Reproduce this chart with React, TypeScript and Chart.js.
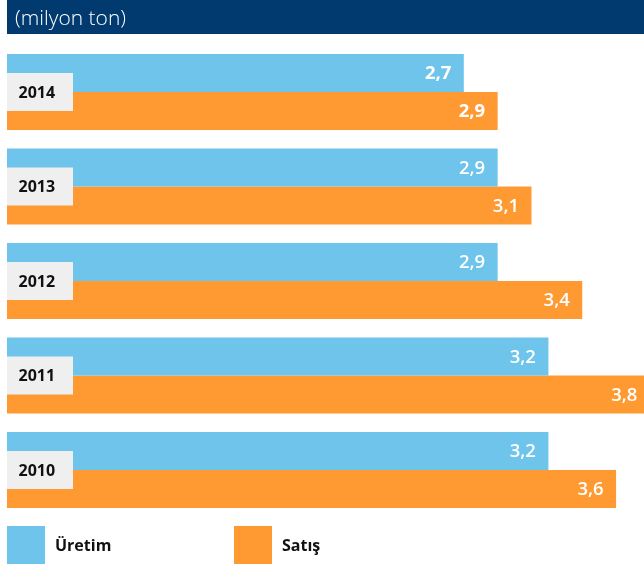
import React, { useEffect, useRef } from "react";
import { Chart, registerables } from "chart.js";

Chart.register(...registerables);

const years = ["2014", "2013", "2012", "2011", "2010"];
const uretim = [2.7, 2.9, 2.9, 3.2, 3.2];
const satis = [2.9, 3.1, 3.4, 3.8, 3.6];
const seriesNames = ["Üretim", "Satış"];
const unitLabel = "(milyon ton)";
const labelWeights = ["bold", "600", "600", "600", "600"];

const BLUE = "#6ec4ea";
const ORANGE = "#ff9a33";
const NAVY = "#003a6f";
const GRAY = "#efefef";
const FONT = "'Open Sans', 'DejaVu Sans', sans-serif";

const fmt = (v: number) => v.toFixed(1).replace(".", ",");

const decorPlugin = {
  id: "decor",
  beforeDraw(chart: any) {
    const ctx = chart.ctx;
    ctx.save();
    ctx.fillStyle = "#ffffff";
    ctx.fillRect(0, 0, chart.width, chart.height);
    // header
    ctx.fillStyle = NAVY;
    ctx.fillRect(7, 0, chart.width - 7, 34);
    ctx.fillStyle = "#ffffff";
    ctx.font = `300 21px ${FONT}`;
    ctx.textAlign = "left";
    ctx.textBaseline = "alphabetic";
    ctx.fillText(unitLabel, 15, 24.5);
    // legend
    const colors = [BLUE, ORANGE];
    const xs = [7, 234];
    ctx.font = `bold 16px ${FONT}`;
    ctx.textBaseline = "middle";
    seriesNames.forEach((name, i) => {
      ctx.fillStyle = colors[i];
      ctx.fillRect(xs[i], 526, 38, 38);
      ctx.fillStyle = "#111111";
      ctx.fillText(name, xs[i] + 48, 546);
    });
    ctx.restore();
  },
  afterDatasetsDraw(chart: any) {
    const ctx = chart.ctx;
    const xScale = chart.scales.x;
    const yScale = chart.scales.y;
    ctx.save();
    // value labels
    chart.data.datasets.forEach((ds: any, di: number) => {
      const meta = chart.getDatasetMeta(di);
      meta.data.forEach((el: any, i: number) => {
        const v = ds.data[i];
        const xEnd = xScale.getPixelForValue(v);
        ctx.font = `${labelWeights[i]} 18.5px ${FONT}`;
        ctx.fillStyle = "#ffffff";
        ctx.textAlign = "right";
        ctx.textBaseline = "middle";
        ctx.fillText(fmt(v), xEnd - 12.5, el.y + 1);
      });
    });
    // year boxes
    years.forEach((yr, i) => {
      const yc = yScale.getPixelForValue(i);
      ctx.fillStyle = GRAY;
      ctx.fillRect(7, yc - 19, 66, 38);
      ctx.fillStyle = "#111111";
      ctx.font = `bold 16px ${FONT}`;
      ctx.textAlign = "left";
      ctx.textBaseline = "middle";
      ctx.fillText(yr, 18.5, yc + 1);
    });
    ctx.restore();
  },
};

export default function App() {
  const ref = useRef<HTMLCanvasElement | null>(null);
  useEffect(() => {
    if (!ref.current) return;
    const chart = new Chart(ref.current, {
      type: "bar",
      data: {
        labels: years,
        datasets: [
          {
            label: seriesNames[0],
            data: uretim,
            backgroundColor: BLUE,
            borderWidth: 0,
            barPercentage: 1,
            categoryPercentage: 0.803,
          },
          {
            label: seriesNames[1],
            data: satis,
            backgroundColor: ORANGE,
            borderWidth: 0,
            barPercentage: 1,
            categoryPercentage: 0.803,
          },
        ],
      },
      options: {
        indexAxis: "y",
        responsive: false,
        animation: false,
        layout: { padding: { left: 7, right: 0, top: 44.75, bottom: 46.75 } },
        scales: {
          x: { display: false, min: 0, max: 3.765 },
          y: { display: false },
        },
        plugins: {
          legend: { display: false },
          tooltip: { enabled: false },
        },
      },
      plugins: [decorPlugin],
    });
    return () => chart.destroy();
  }, []);
  return (
    <div style={{ position: "absolute", left: 0, top: 0, width: 644, height: 564 }}>
      <canvas ref={ref} width={644} height={564} style={{ display: "block" }} />
    </div>
  );
}
